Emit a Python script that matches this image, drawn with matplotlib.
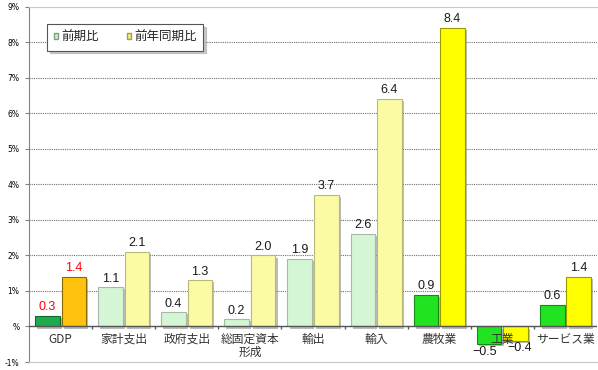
import matplotlib
matplotlib.use('Agg')
import matplotlib.pyplot as plt
import matplotlib.patheffects as pe
from matplotlib.patches import Patch
import numpy as np

plt.rcParams['font.family'] = ['Noto Sans CJK JP', 'DejaVu Sans']

# --- data ---
categories = ['GDP', '家計支出', '政府支出', '総固定資本\n形成', '輸出', '輸入',
              '農牧業', '工業', 'サービス業']
qoq = [0.3, 1.1, 0.4, 0.2, 1.9, 2.6, 0.9, -0.5, 0.6]    # 前期比
yoy = [1.4, 2.1, 1.3, 2.0, 3.7, 6.4, 8.4, -0.4, 1.4]    # 前年同期比
yticks = [-1, 0, 1, 2, 3, 4, 5, 6, 7, 8, 9]
ytick_labels = ['-1%', '%', '1%', '2%', '3%', '4%', '5%', '6%', '7%', '8%', '9%']

# colours per group: GDP / demand side / supply side
qoq_colors = ['#1eaa4e'] + ['#d4f6d4'] * 5 + ['#22e322'] * 3
qoq_edges = ['#0d6a2c'] + ['#a8b8a8'] * 5 + ['#138a13'] * 3
yoy_colors = ['#ffc20e'] + ['#fbfba4'] * 5 + ['#ffff00'] * 3
yoy_edges = ['#8a6800'] + ['#b8b878'] * 5 + ['#9a9a00'] * 3
label_colors = ['#ff0000'] + ['#1a1a1a'] * 8

fig = plt.figure(figsize=(5.98, 3.70), dpi=100)
ax = fig.add_axes([0.0485, 0.0216, 0.95, 0.96])

x = np.arange(len(categories))
w = 0.39
off = 0.21
shadow = [pe.SimplePatchShadow(offset=(1.5, -1.5), shadow_rgbFace='#909090', alpha=0.6),
          pe.Normal()]

bars1 = ax.bar(x - off, qoq, w, color=qoq_colors, edgecolor=qoq_edges,
               linewidth=0.8, zorder=3)
bars2 = ax.bar(x + off, yoy, w, color=yoy_colors, edgecolor=yoy_edges,
               linewidth=0.8, zorder=3)
for b in list(bars1) + list(bars2):
    b.set_path_effects(shadow)

# value labels: above positive bars, below negative ones (pushed apart a little)
for i in range(len(categories)):
    for xi, v, side in ((x[i] - off, qoq[i], -1), (x[i] + off, yoy[i], 1)):
        txt = f'{v:.1f}'.replace('-', '\u2212')
        if v >= 0:
            ax.annotate(txt, (xi, v), xytext=(0, 2), textcoords='offset points',
                        ha='center', va='bottom', fontsize=9,
                        color=label_colors[i], family=['Liberation Sans'], zorder=5)
        else:
            ax.annotate(txt, (xi, v), xytext=(3 * side, -1), textcoords='offset points',
                        ha='center', va='top', fontsize=9,
                        color=label_colors[i], family=['Liberation Sans'], zorder=5)

# category labels
for i, c in enumerate(categories):
    ax.text(x[i], -0.17, c, ha='center', va='top', fontsize=8.5,
            color='#333333', linespacing=1.05, zorder=6)

# gridlines and zero axis
ax.hlines(range(1, 9), -0.5, 8.5, colors='#707070', linestyles=(0, (1, 1)),
          linewidth=0.8, zorder=1)
ax.axhline(0, color='#555555', linewidth=1.0, zorder=4)
ax.vlines(np.arange(0.5, 8.5, 1.0), -0.08, 0, colors='#555555', linewidth=1.0, zorder=4)

ax.set_xlim(-0.5, 8.5)
ax.set_ylim(-1, 9)
ax.set_xticks([])
ax.set_yticks(yticks)
ax.set_yticklabels(ytick_labels, fontsize=5.5, family=['DejaVu Sans'])
ax.tick_params(axis='y', length=3, color='#808080', pad=4)

ax.spines['right'].set_visible(False)
ax.spines['left'].set_color('#808080')
ax.spines['top'].set_color('#c8c8c8')
ax.spines['bottom'].set_color('#c8c8c8')

handles = [Patch(facecolor='#c8f0c8', edgecolor='#80a080'),
           Patch(facecolor='#f0f080', edgecolor='#a0a040')]
leg = ax.legend(handles, ['前期比', '前年同期比'], ncol=2, loc='upper left',
                bbox_to_anchor=(0.032, 0.952), fontsize=9, fancybox=False,
                shadow={'color': '#b0b0b0', 'alpha': 0.7}, edgecolor='#555555',
                framealpha=1, handlelength=0.35, handleheight=0.35,
                handletextpad=0.25, columnspacing=2.2, borderpad=0.55,
                borderaxespad=0)
leg.get_frame().set_linewidth(0.8)
leg.set_zorder(10)
for t in leg.get_texts():
    t.set_color('#222222')

fig.savefig('out.png', dpi=100, facecolor='white')
